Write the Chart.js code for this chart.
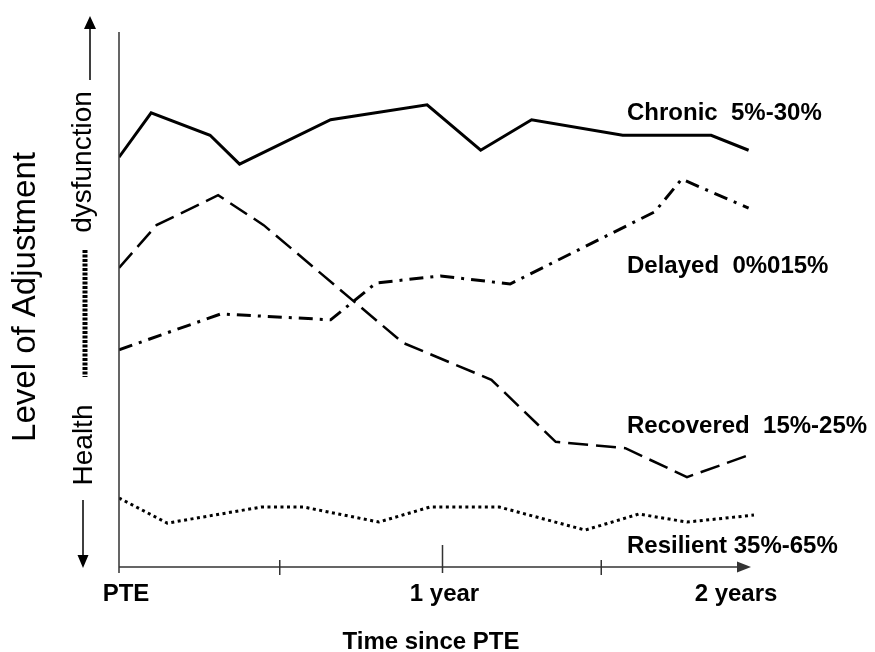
<!DOCTYPE html>
<html>
<head>
<meta charset="utf-8">
<script src="https://cdn.jsdelivr.net/npm/chart.js@4.4.1/dist/chart.umd.min.js"></script>
<style>
  html, body { margin: 0; padding: 0; background: #fff; }
  #wrap { width: 875px; height: 652px; position: relative; }
</style>
</head>
<body>
<div id="wrap"><canvas id="trajChart"></canvas></div>
<script>
// time since PTE in months, level of adjustment 0 (health) .. 100 (dysfunction)
const chronicMonths = [0, 1.2, 3.4, 4.5, 7.9, 11.5, 13.5, 15.4, 18.8, 22.1, 23.5];
const chronicLevel = [76.6, 84.9, 80.7, 75.3, 83.6, 86.4, 77.9, 83.6, 80.7, 80.7, 77.9];

const delayedMonths = [0, 3.8, 7.9, 9.6, 12.0, 14.6, 20.0, 21.0, 23.5];
const delayedLevel = [40.6, 47.3, 46.2, 53.1, 54.4, 52.9, 66.4, 72.5, 67.1];

const recoveredMonths = [0, 1.4, 3.7, 5.4, 10.6, 13.9, 16.3, 18.9, 21.2, 23.5];
const recoveredLevel = [55.9, 63.9, 69.5, 63.9, 41.9, 35.0, 23.4, 22.2, 16.8, 20.9];

const resilientMonths = [0, 1.8, 5.3, 6.9, 9.7, 11.6, 14.2, 17.4, 19.4, 21.2, 23.7];
const resilientLevel = [12.9, 8.2, 11.2, 11.2, 8.4, 11.2, 11.2, 6.9, 9.9, 8.4, 9.7];

const seriesNames = ['Chronic  5%-30%', 'Delayed  0%015%', 'Recovered  15%-25%', 'Resilient 35%-65%'];

const xTickValues = [0, 12, 24];
const xTickLabels = ['PTE', '1 year', '2 years'];
const xMinorTicks = [6, 18];

const toPoints = (xs, ys) => xs.map((x, i) => ({ x: x, y: ys[i] }));

const ink = '#000';
const axisInk = '#333';

const annotationsPlugin = {
    id: 'annotations',
    afterDraw(chart) {
        const ctx = chart.ctx;
        const xs = chart.scales.x;
        const ys = chart.scales.y;
        const left = xs.getPixelForValue(0);
        const bottom = ys.getPixelForValue(0);
        const top = ys.getPixelForValue(100);
        ctx.save();

        // axes
        ctx.strokeStyle = axisInk;
        ctx.fillStyle = axisInk;
        ctx.lineWidth = 1.5;
        ctx.beginPath();
        ctx.moveTo(left, top);
        ctx.lineTo(left, bottom + 6);
        ctx.moveTo(left, bottom);
        ctx.lineTo(740, bottom);
        ctx.stroke();
        ctx.beginPath();
        ctx.moveTo(751, bottom);
        ctx.lineTo(737, bottom - 5.5);
        ctx.lineTo(737, bottom + 5.5);
        ctx.closePath();
        ctx.fill();

        // ticks
        ctx.beginPath();
        xMinorTicks.forEach(v => {
            const px = xs.getPixelForValue(v);
            ctx.moveTo(px, bottom - 7);
            ctx.lineTo(px, bottom + 8);
        });
        const yearPx = xs.getPixelForValue(12) + 2;
        ctx.moveTo(yearPx, bottom - 22);
        ctx.lineTo(yearPx, bottom + 6);
        ctx.stroke();

        // tick labels
        ctx.fillStyle = ink;
        ctx.font = 'bold 24px "Liberation Sans", Arial, sans-serif';
        ctx.textBaseline = 'alphabetic';
        const labelShift = [7, 4, -26];
        xTickValues.forEach((v, i) => {
            ctx.textAlign = 'center';
            ctx.fillText(xTickLabels[i], xs.getPixelForValue(v) + labelShift[i], 601);
        });
        ctx.fillText('Time since PTE', 431, 649);

        // series labels
        const labelBase = [120, 273, 433, 553];
        ctx.textAlign = 'left';
        seriesNames.forEach((name, i) => ctx.fillText(name, 627, labelBase[i]));

        // y axis titles
        const vText = (txt, x, y, font) => {
            ctx.save();
            ctx.translate(x, y);
            ctx.rotate(-Math.PI / 2);
            ctx.font = font;
            ctx.textAlign = 'center';
            ctx.fillText(txt, 0, 0);
            ctx.restore();
        };
        vText('Level of Adjustment', 35, 297, '33px "Liberation Sans", Arial, sans-serif');
        vText('dysfunction', 91, 162, '28px "Liberation Sans", Arial, sans-serif');
        vText('Health', 92, 445, '28px "Liberation Sans", Arial, sans-serif');

        // arrows beside the titles
        ctx.strokeStyle = ink;
        ctx.lineWidth = 1.5;
        ctx.beginPath();
        ctx.moveTo(90, 28);
        ctx.lineTo(90, 80);
        ctx.moveTo(83, 500);
        ctx.lineTo(83, 556);
        ctx.stroke();
        ctx.beginPath();
        ctx.moveTo(90, 16);
        ctx.lineTo(84, 29);
        ctx.lineTo(96, 29);
        ctx.closePath();
        ctx.moveTo(83, 568);
        ctx.lineTo(77.5, 555);
        ctx.lineTo(88.5, 555);
        ctx.closePath();
        ctx.fill();

        ctx.lineWidth = 5;
        ctx.setLineDash([3, 1.5]);
        ctx.beginPath();
        ctx.moveTo(85, 250);
        ctx.lineTo(85, 377);
        ctx.stroke();
        ctx.restore();
    }
};

const lineStyle = (dash, width) => ({
    borderColor: ink,
    borderWidth: width,
    borderDash: dash,
    borderCapStyle: 'butt',
    borderJoinStyle: 'miter',
    pointRadius: 0,
    tension: 0,
    fill: false
});

new Chart(document.getElementById('trajChart').getContext('2d'), {
    type: 'line',
    data: {
        datasets: [
            Object.assign({ label: seriesNames[0], data: toPoints(chronicMonths, chronicLevel) }, lineStyle([], 3)),
            Object.assign({ label: seriesNames[1], data: toPoints(delayedMonths, delayedLevel) }, lineStyle([14, 7, 3, 7], 3)),
            Object.assign({ label: seriesNames[2], data: toPoints(recoveredMonths, recoveredLevel) }, lineStyle([20, 8], 2.5)),
            Object.assign({ label: seriesNames[3], data: toPoints(resilientMonths, resilientLevel) }, lineStyle([3, 3.5], 3))
        ]
    },
    options: {
        responsive: true,
        maintainAspectRatio: false,
        animation: false,
        layout: { padding: { left: 119, top: 32, right: 113, bottom: 85 } },
        scales: {
            x: { type: 'linear', min: 0, max: 24, display: false },
            y: { type: 'linear', min: 0, max: 100, display: false }
        },
        plugins: {
            legend: { display: false },
            tooltip: { enabled: false }
        }
    },
    plugins: [annotationsPlugin]
});
</script>
</body>
</html>
